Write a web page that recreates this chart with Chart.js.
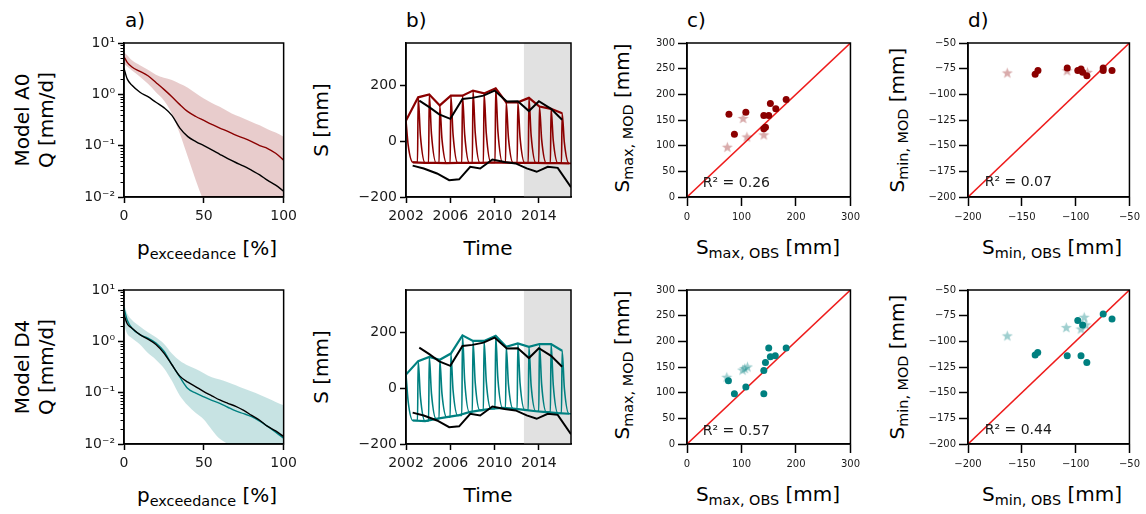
<!DOCTYPE html>
<html>
<head>
<meta charset="utf-8">
<script src="https://cdn.jsdelivr.net/npm/chart.js@4.4.1/dist/chart.umd.min.js"></script>
<style>
  body { margin: 0; width: 1146px; height: 514px; position: relative; overflow: hidden; background: #fff;
         font-family: "DejaVu Sans", sans-serif; color: #000; }
  canvas { position: absolute; }
  .t { position: absolute; white-space: nowrap; font-size: 20px; line-height: 24px; text-align: center;
       transform: translate(-50%, -50%); }
  .r { transform: translate(-50%, -50%) rotate(-90deg); }
  sub { font-size: 72%; vertical-align: baseline; position: relative; top: 0.3em; }
  .lab { position: absolute; font-size: 20px; line-height: 24px; }
</style>
</head>
<body>
<div class="lab" style="left:125px;top:8px">a)</div>
<div class="lab" style="left:406px;top:8px">b)</div>
<div class="lab" style="left:687px;top:8px">c)</div>
<div class="lab" style="left:968px;top:8px">d)</div>

<div class="t r" style="left:34px;top:120px">Model A0<br>Q [mm/d]</div>
<div class="t r" style="left:34px;top:367px">Model D4<br>Q [mm/d]</div>
<div class="t r" style="left:321px;top:120px">S [mm]</div>
<div class="t r" style="left:321px;top:367px">S [mm]</div>
<div class="t r" style="left:623px;top:118px">S<sub>max, MOD</sub> [mm]</div>
<div class="t r" style="left:623px;top:365px">S<sub>max, MOD</sub> [mm]</div>
<div class="t r" style="left:898px;top:120px">S<sub>min, MOD</sub> [mm]</div>
<div class="t r" style="left:898px;top:367px">S<sub>min, MOD</sub> [mm]</div>

<div class="t" style="left:207px;top:249px">p<sub>exceedance</sub> [%]</div>
<div class="t" style="left:207px;top:496px">p<sub>exceedance</sub> [%]</div>
<div class="t" style="left:488px;top:248px">Time</div>
<div class="t" style="left:488px;top:495px">Time</div>
<div class="t" style="left:768px;top:248px">S<sub>max, OBS</sub> [mm]</div>
<div class="t" style="left:768px;top:495px">S<sub>max, OBS</sub> [mm]</div>
<div class="t" style="left:1052px;top:248px">S<sub>min, OBS</sub> [mm]</div>
<div class="t" style="left:1052px;top:495px">S<sub>min, OBS</sub> [mm]</div>

<script>
// flow duration curves (exceedance probability in %, Q in mm/d)
const pGrid = [0, 2, 5, 10, 15, 20, 25, 30, 35, 40, 45, 50, 55, 60, 65, 70, 75, 80, 85, 90, 95, 100];
const a0Obs = [3.2, 2.0, 1.5, 1.1, 0.9, 0.7, 0.55, 0.39, 0.22, 0.15, 0.12, 0.1, 0.083, 0.068, 0.056, 0.047, 0.04, 0.033, 0.027, 0.021, 0.017, 0.013];
const a0Mod = [5.4, 4.2, 3.4, 2.8, 2.3, 1.7, 1.25, 0.9, 0.63, 0.46, 0.37, 0.31, 0.26, 0.22, 0.19, 0.16, 0.14, 0.12, 0.1, 0.088, 0.071, 0.052];
const a0Hi = [6.6, 5.8, 4.6, 3.7, 3.0, 2.4, 2.1, 1.9, 1.6, 1.35, 1.05, 0.83, 0.68, 0.57, 0.47, 0.39, 0.34, 0.29, 0.25, 0.21, 0.18, 0.15];
const a0Lo = [3.9, 3.5, 2.9, 2.2, 1.6, 1.1, 0.76, 0.42, 0.17, 0.06, 0.021, 0.008, 0.003, 0.001, 0.001, 0.001, 0.001, 0.001, 0.001, 0.001, 0.001, 0.001];
const d4Obs = [3.3, 2.2, 1.8, 1.35, 1.1, 0.87, 0.59, 0.35, 0.21, 0.16, 0.13, 0.105, 0.087, 0.072, 0.062, 0.054, 0.045, 0.036, 0.029, 0.022, 0.018, 0.014];
const d4Mod = [4.4, 2.6, 1.8, 1.35, 1.16, 0.93, 0.64, 0.35, 0.2, 0.12, 0.098, 0.083, 0.071, 0.062, 0.052, 0.044, 0.039, 0.034, 0.028, 0.022, 0.017, 0.013];
const d4Hi = [5.5, 3.5, 2.6, 1.95, 1.5, 1.2, 0.9, 0.58, 0.42, 0.34, 0.29, 0.24, 0.2, 0.18, 0.16, 0.14, 0.12, 0.105, 0.091, 0.078, 0.066, 0.057];
const d4Lo = [2.1, 1.4, 1.15, 0.87, 0.59, 0.44, 0.3, 0.17, 0.087, 0.056, 0.04, 0.03, 0.019, 0.0126, 0.01, 0.008, 0.006, 0.005, 0.004, 0.003, 0.002, 0.002];

const pTicks = [0, 50, 100];
const qTicks = [0.01, 0.1, 1, 10];
const qTickLabels = ['10⁻²', '10⁻¹', '10⁰', '10¹'];

// storage time series (mm)
const yearTicks = [2002, 2006, 2010, 2014];
const sTicks = [-200, 0, 200];
const shadeFrom = 2012.65;
const peakT = [2002.0, 2003.1, 2004.1, 2005.05, 2006.05, 2007.1, 2008.05, 2009.05, 2010.1, 2011.05, 2012.1, 2013.1, 2014.05, 2015.1, 2016.1];
const a0Peak = [73, 156, 166, 127, 162, 162, 180, 170, 188, 138, 138, 154, 123, 115, 99];
const a0Mid = [-16, 20, 25, 6, 23, 23, 30, 27, 35, 12, 12, 20, 5, 1, -6];
const a0Trough = [-76, -78, -78, -79, -78, -78, -78, -77, -77, -78, -78, -78, -79, -79, -80];
const d4Peak = [48, 96, 111, 101, 123, 188, 168, 168, 186, 147, 159, 147, 157, 157, 133];
const d4Mid = [-50, -30, -20, -21, -8, 25, 19, 23, 32, 14, 17, 9, 12, 10, -1];
const d4Trough = [-116, -118, -110, -104, -98, -86, -80, -74, -71, -74, -78, -83, -86, -90, -92];
const obsMaxT = [2003.2, 2004.1, 2005.0, 2006.0, 2007.1, 2008.0, 2009.0, 2010.0, 2011.1, 2012.1, 2013.1, 2014.0, 2015.1, 2016.1];
const obsMax = [144, 121, 95, 79, 150, 154, 162, 180, 141, 142, 107, 142, 115, 76];
const obsMinT = [2002.6, 2003.6, 2004.8, 2005.9, 2006.8, 2007.8, 2008.7, 2009.8, 2010.9, 2011.9, 2012.9, 2013.8, 2014.8, 2015.7, 2016.9];
const obsMin = [-88, -98, -116, -140, -137, -92, -98, -66, -75, -80, -98, -110, -92, -96, -165];

// annual max / min scatter (obs vs mod); circles = calibration, stars = validation
const smaxTicksX = [0, 100, 200, 300];
const smaxTicksY = [0, 50, 100, 150, 200, 250, 300];
const sminTicksX = [-200, -150, -100, -50];
const sminTicksY = [-200, -175, -150, -125, -100, -75, -50];
const a0MaxObs = [77, 87, 108, 141, 141, 144, 150, 153, 163, 182];
const a0MaxMod = [161, 122, 165, 159, 133, 136, 159, 182, 172, 190];
const a0MaxObsV = [74, 103, 110, 141];
const a0MaxModV = [97, 153, 117, 121];
const a0MinObs = [-137.6, -135, -107.8, -98, -95, -93.5, -89.6, -74.4, -74.4, -66.2];
const a0MinMod = [-80.5, -76.9, -74.4, -76.9, -75.3, -78.6, -81.8, -76.9, -74.4, -76.9];
const a0MinObsV = [-163.5, -108, -89];
const a0MinModV = [-79.2, -77, -78.6];
const d4MaxObs = [76, 87, 108, 141, 141, 144, 150, 153, 162, 182];
const d4MaxMod = [123, 98, 111, 98, 143, 159, 187, 170, 172, 187];
const d4MaxObsV = [73, 102, 106, 111];
const d4MaxModV = [130, 144, 147, 150];
const d4MinObs = [-137.6, -135.2, -107.8, -98, -95, -93.5, -89.6, -74.4, -66.2];
const d4MinMod = [-113.2, -110.9, -114.1, -79.8, -114.1, -84, -120.6, -73.3, -78.2];
const d4MinObsV = [-163.5, -108.7, -92, -95, -90.5];
const d4MinModV = [-94.7, -86.6, -76.6, -88, -84];
const r2 = { a0max: 0.26, a0min: 0.07, d4max: 0.57, d4min: 0.44 };

const RED = '#8b0000', TEAL = '#008080';
const FONT = 'DejaVu Sans';
const YW = 110, XH = 45, PT = 12, PR = 12;

const pts = (xs, ys) => xs.map((x, i) => ({ x, y: ys[i] }));
const minus = v => v < 0 ? '−' + Math.abs(v) : String(v);

// sharp rise to the annual peak, then a decay down to the annual low
function seasonal(peak, mid, trough) {
  const out = [];
  peakT.forEach((t, i) => {
    if (i > 0) out.push({ x: t - 0.06, y: trough[i - 1] });
    out.push({ x: t, y: peak[i] });
    out.push({ x: t + 0.2, y: mid[i] });
    out.push({ x: t + 0.62, y: trough[i] });
  });
  out.push({ x: 2016.9, y: trough[trough.length - 1] });
  return out;
}

function starImg(color) {
  const c = document.createElement('canvas');
  c.width = c.height = 13;
  const g = c.getContext('2d');
  g.fillStyle = color;
  g.beginPath();
  for (let k = 0; k < 10; k++) {
    const r = k % 2 ? 2.4 : 5.8;
    const a = -Math.PI / 2 + k * Math.PI / 5;
    g.lineTo(6.5 + r * Math.cos(a), 6.8 + r * Math.sin(a));
  }
  g.closePath();
  g.fill();
  return c;
}

// box round the plot, shaded validation period, minor log ticks, R² note
const frame = {
  id: 'frame',
  beforeDatasetsDraw(chart, args, o) {
    if (o.shadeFrom == null) return;
    const a = chart.chartArea, x0 = chart.scales.x.getPixelForValue(o.shadeFrom);
    chart.ctx.save();
    chart.ctx.fillStyle = '#e1e1e1';
    chart.ctx.fillRect(x0, a.top, a.right - x0, a.bottom - a.top);
    chart.ctx.restore();
  },
  afterDraw(chart, args, o) {
    const { ctx, chartArea: a } = chart;
    ctx.save();
    if (o.note) {
      ctx.font = '14px "' + FONT + '"';
      ctx.fillStyle = '#1a1a1a';
      ctx.textBaseline = 'middle';
      ctx.fillText(o.note, chart.scales.x.getPixelForValue(o.noteAt[0]), chart.scales.y.getPixelForValue(o.noteAt[1]));
    }
    if (o.minor) {
      ctx.strokeStyle = '#000';
      ctx.lineWidth = 1;
      o.minor.forEach(v => {
        const y = Math.round(chart.scales.y.getPixelForValue(v)) + 0.5;
        ctx.beginPath(); ctx.moveTo(a.left - 3.5, y); ctx.lineTo(a.left, y); ctx.stroke();
      });
    }
    ctx.strokeStyle = '#000';
    ctx.lineWidth = 1.5;
    ctx.strokeRect(a.left, a.top, a.right - a.left, a.bottom - a.top);
    ctx.restore();
  }
};
Chart.register(frame);

function axis(dir, min, max, ticks, fmt, size, tickLen, type) {
  return {
    type: type || 'linear',
    min, max,
    border: { display: true, color: '#000', width: 1.5 },
    grid: { drawOnChartArea: false, drawTicks: true, tickLength: tickLen, tickColor: '#000', tickWidth: 1.5 },
    ticks: { color: '#1a1a1a', font: { family: FONT, size }, padding: dir === 'x' ? 5 : 3,
             autoSkip: false, maxRotation: 0, callback: fmt },
    afterBuildTicks: s => { s.ticks = ticks.map(v => ({ value: v })); },
    afterFit: s => { if (dir === 'x') s.height = XH; else s.width = YW; }
  };
}

function panel(L, T, W, H, type, datasets, xScale, yScale, frameOpts) {
  const cv = document.createElement('canvas');
  cv.width = YW + W + PR;
  cv.height = PT + H + XH;
  cv.style.left = (L - YW) + 'px';
  cv.style.top = (T - PT) + 'px';
  document.body.appendChild(cv);
  return new Chart(cv, {
    type,
    data: { datasets },
    options: {
      responsive: false, animation: false, events: [],
      layout: { padding: { top: PT, right: PR, left: 0, bottom: 0 } },
      plugins: { legend: { display: false }, tooltip: { enabled: false }, frame: frameOpts || {} },
      scales: { x: xScale, y: yScale }
    }
  });
}

// --- a) flow duration curves
const qMinor = [];
qTicks.slice(0, -1).forEach(d => { for (let m = 2; m <= 9; m++) qMinor.push(d * m); });
const qFmt = v => qTickLabels[qTicks.indexOf(v)] || '';

function fdc(T, obs, mod, hi, lo, col, band) {
  panel(124, T, 166, 154, 'line', [
    { data: pts(pGrid, obs), borderColor: '#000', borderWidth: 1.4, pointRadius: 0, cubicInterpolationMode: 'monotone' },
    { data: pts(pGrid, mod), borderColor: col, borderWidth: 1.4, pointRadius: 0, cubicInterpolationMode: 'monotone' },
    { data: pts(pGrid, hi), borderWidth: 0, pointRadius: 0, fill: '+1', backgroundColor: band, cubicInterpolationMode: 'monotone', clip: 0 },
    { data: pts(pGrid, lo), borderWidth: 0, pointRadius: 0, cubicInterpolationMode: 'monotone', clip: 0 }
  ],
  axis('x', 0, 100, pTicks, v => String(v), 14, 6),
  axis('y', 0.01, 10, qTicks, qFmt, 14, 6, 'logarithmic'),
  { minor: qMinor });
}
fdc(43, a0Obs, a0Mod, a0Hi, a0Lo, RED, 'rgba(139,0,0,0.2)');
fdc(290, d4Obs, d4Mod, d4Hi, d4Lo, TEAL, 'rgba(0,128,128,0.22)');

// --- b) storage time series
function series(T, peak, mid, trough, col) {
  panel(406, T, 165, 154, 'line', [
    { data: pts(obsMaxT, obsMax), borderColor: '#000', borderWidth: 2, pointRadius: 0 },
    { data: pts(obsMinT, obsMin), borderColor: '#000', borderWidth: 2, pointRadius: 0 },
    { data: pts(peakT, peak), borderColor: col, borderWidth: 2.2, pointRadius: 0 },
    { data: pts(peakT.map(t => t + 0.62), trough), borderColor: col, borderWidth: 2.2, pointRadius: 0 },
    { data: seasonal(peak, mid, trough), borderColor: col, borderWidth: 1.6, pointRadius: 0, cubicInterpolationMode: 'monotone' }
  ],
  axis('x', 2002, 2016.9, yearTicks, v => String(v), 14, 6),
  axis('y', -200, 350, sTicks, minus, 14, 6),
  { shadeFrom });
}
series(43, a0Peak, a0Mid, a0Trough, RED);
series(290, d4Peak, d4Mid, d4Trough, TEAL);

// --- c), d) annual extremes
function scatter(L, T, obs, mod, obsV, modV, col, star, lo, hi, tx, ty, note, noteAt) {
  panel(L, T, L === 687 ? 166 : 165, 154, 'scatter', [
    { data: pts(obs, mod), backgroundColor: col, borderWidth: 0, pointRadius: 3.5 },
    { data: pts(obsV, modV), pointStyle: starImg(star), pointRadius: 6 },
    { data: [{ x: lo, y: lo }, { x: hi, y: hi }], showLine: true, borderColor: '#ee1c1c', borderWidth: 1.6, pointRadius: 0 }
  ],
  axis('x', lo, hi, tx, minus, 10, 9),
  axis('y', lo, hi, ty, minus, 10, 9),
  { note, noteAt });
}
const STAR_R = 'rgba(139,0,0,0.33)', STAR_T = 'rgba(0,128,128,0.38)';
scatter(687, 43, a0MaxObs, a0MaxMod, a0MaxObsV, a0MaxModV, RED, STAR_R, 0, 300, smaxTicksX, smaxTicksY, 'R² = ' + r2.a0max.toFixed(2), [29, 27]);
scatter(968, 43, a0MinObs, a0MinMod, a0MinObsV, a0MinModV, RED, STAR_R, -200, -50, sminTicksX, sminTicksY, 'R² = ' + r2.a0min.toFixed(2), [-184.5, -186]);
scatter(687, 290, d4MaxObs, d4MaxMod, d4MaxObsV, d4MaxModV, TEAL, STAR_T, 0, 300, smaxTicksX, smaxTicksY, 'R² = ' + r2.d4max.toFixed(2), [29, 25]);
scatter(968, 290, d4MinObs, d4MinMod, d4MinObsV, d4MinModV, TEAL, STAR_T, -200, -50, sminTicksX, sminTicksY, 'R² = ' + r2.d4min.toFixed(2), [-184.5, -187]);
</script>
</body>
</html>
